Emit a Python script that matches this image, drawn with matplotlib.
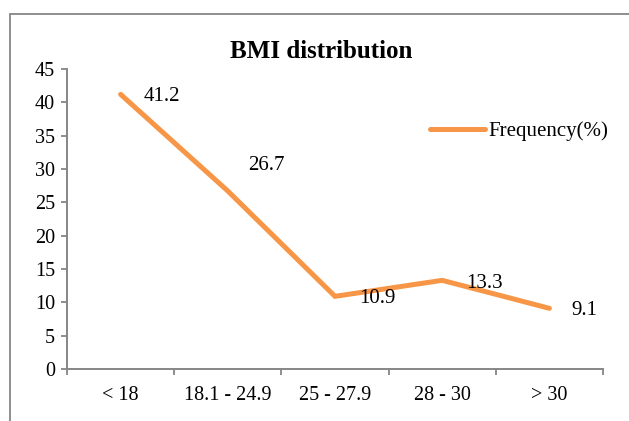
import matplotlib
matplotlib.use("Agg")
import matplotlib.pyplot as plt
from matplotlib.patches import Rectangle
import numpy as np

plt.rcParams['font.family'] = ['Liberation Serif', 'DejaVu Serif']

categories = ["< 18", "18.1 - 24.9", "25 - 27.9", "28 - 30", "> 30"]
frequency = [41.2, 26.7, 10.9, 13.3, 9.1]
# label offsets in pixels (dx, dy) from each point to label's left/center
label_offsets = [(23, -2), (20, 26), (24, -2), (24, -3), (22, -2)]

line_color = '#F79646'
axis_color = '#868686'

W, H = 629, 421
fig = plt.figure(figsize=(W / 100, H / 100), dpi=100)

# chart border (only top and left visible in the crop)
fig.patches.append(Rectangle((9.5 / W, -0.1), 1.2, 1 - 14 / H + 0.1,
                             transform=fig.transFigure, fill=False,
                             edgecolor=axis_color, linewidth=1.3))

x0, x1, y0, y1 = 67, 603, 69, 369
ax = fig.add_axes([x0 / W, 1 - y1 / H, (x1 - x0) / W, (y1 - y0) / H])

x = np.arange(len(categories))
ax.plot(x, frequency, color=line_color, linewidth=3.6,
        solid_capstyle='round', solid_joinstyle='miter', label='Frequency(%)')

for xi, v, (dx, dy) in zip(x, frequency, label_offsets):
    ax.annotate(f"{v}", (xi, v), xytext=(dx * 0.72, dy * 0.72),
                textcoords='offset points', ha='left', va='center',
                fontsize=15)

ax.set_xlim(-0.5, len(categories) - 0.5)
ax.set_ylim(0, 45)
ax.set_yticks(np.arange(0, 46, 5))

ax.set_xticks(np.arange(-0.5, len(categories), 1.0))
ax.set_xticklabels([])
ax.set_xticks(x, minor=True)
ax.set_xticklabels(categories, minor=True)
ax.tick_params(axis='x', which='major', length=4.5, direction='out',
               color=axis_color, width=1.3)
ax.tick_params(axis='x', which='minor', length=0, pad=12, labelsize=14.5)
ax.tick_params(axis='y', length=4.5, direction='out', color=axis_color,
               width=1.3, labelsize=14.5, pad=4)

for side in ['top', 'right']:
    ax.spines[side].set_visible(False)
for side in ['left', 'bottom']:
    ax.spines[side].set_color(axis_color)
    ax.spines[side].set_linewidth(1.4)

fig.text(321 / W, 1 - 58 / H, "BMI distribution", ha='center', va='baseline',
         fontsize=18, fontweight='bold')

leg_fs = 15
ax.legend(loc='center left',
          bbox_to_anchor=((430 - x0) / (x1 - x0), (y1 - 131) / (y1 - y0)),
          frameon=False, fontsize=leg_fs, handlelength=39.6 / leg_fs,
          handletextpad=2.2 / leg_fs, borderaxespad=0, borderpad=0)

fig.savefig("out.png", dpi=100)
